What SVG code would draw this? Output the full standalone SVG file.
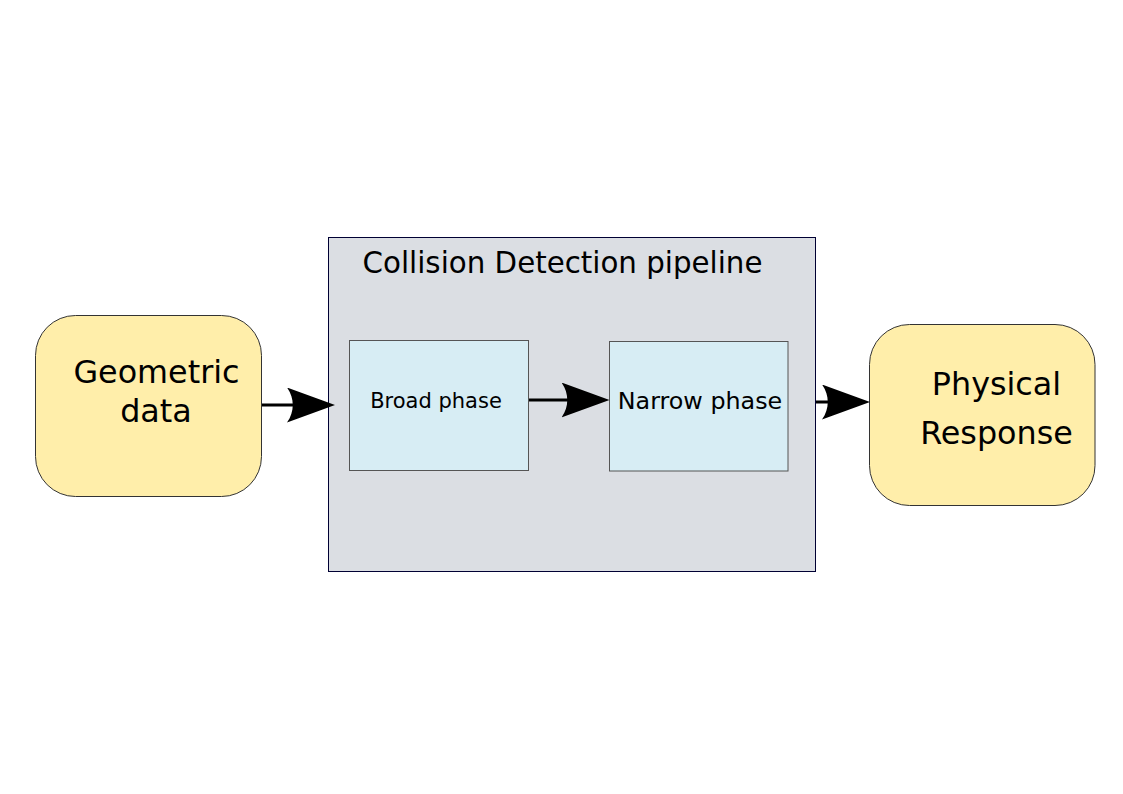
<svg xmlns="http://www.w3.org/2000/svg" width="1123" height="794" viewBox="0 0 1123 794">
  <style>
    .term { fill: #ffeeaa; stroke: #333333; stroke-width: 1; }
    .pipe { fill: #dbdee3; stroke: #000033; stroke-width: 1; }
    .phase { fill: #d7edf4; stroke: #555555; stroke-width: 1; }
    .conn { stroke: #000000; stroke-width: 3.2; fill: none; marker-end: url(#arrow); }
    text { font-family: "DejaVu Sans", "Liberation Sans", sans-serif; fill: #000000; text-anchor: middle; }
  </style>
  <defs>
    <marker id="arrow" markerUnits="userSpaceOnUse" markerWidth="48" markerHeight="35" viewBox="0 0 48 35" refX="33" refY="17.5" orient="auto">
      <path d="M48,17.5 L0,0 C7.7,10.5 7.7,24.5 0,35 Z" fill="#000000"/>
    </marker>
  </defs>
  <rect width="1123" height="794" fill="#ffffff"/>

  <g id="geometric-data">
    <rect class="term" x="35.5" y="315.5" width="226" height="181" rx="40" ry="40"/>
    <text x="156.5" y="382.5" font-size="31.8">Geometric</text>
    <text x="156" y="422" font-size="31.8">data</text>
  </g>

  <g id="pipeline">
    <rect class="pipe" x="328.5" y="237.5" width="487" height="334"/>
    <text x="562.5" y="273" font-size="29.3">Collision Detection pipeline</text>
  </g>

  <g id="broad-phase">
    <rect class="phase" x="349.5" y="340.5" width="179" height="130"/>
    <text x="436" y="407.5" font-size="21">Broad phase</text>
  </g>

  <g id="narrow-phase">
    <rect class="phase" x="609.5" y="341.5" width="178.5" height="129.5"/>
    <text x="700" y="408.5" font-size="23.8">Narrow phase</text>
  </g>

  <g id="physical-response">
    <rect class="term" x="869.5" y="324.5" width="225.5" height="181" rx="40" ry="40"/>
    <text x="996.5" y="395" font-size="31.8">Physical</text>
    <text x="996.5" y="444" font-size="31.8">Response</text>
  </g>

  <g id="connectors">
    <line class="conn" x1="262" y1="405" x2="320" y2="405"/>
    <line class="conn" x1="529" y1="400" x2="594.5" y2="400"/>
    <line class="conn" x1="816" y1="402" x2="855" y2="402"/>
  </g>
</svg>
